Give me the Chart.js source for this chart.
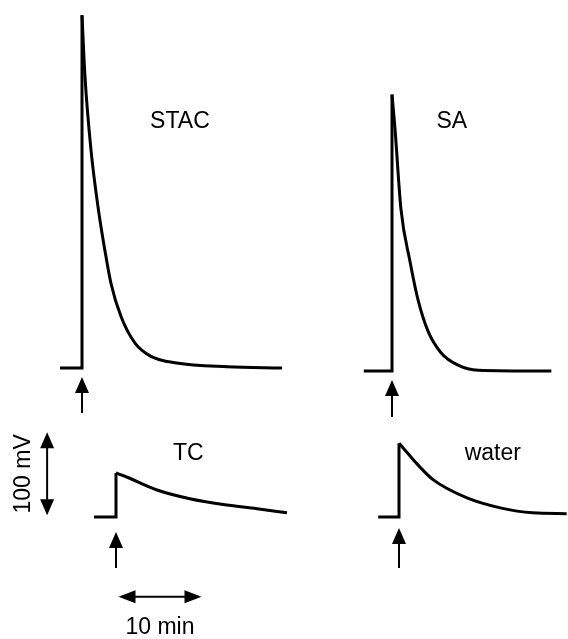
<!DOCTYPE html>
<html>
<head>
<meta charset="utf-8">
<script src="https://cdn.jsdelivr.net/npm/chart.js@4"></script>
<style>
  html, body { margin: 0; padding: 0; background: #fff; }
  #wrap { width: 568px; height: 639px; }
</style>
</head>
<body>
<div id="wrap"><canvas id="myChart" width="568" height="639"></canvas></div>
<script>
// potential (mV above baseline) against time after injection (min)
const panels = ["STAC", "SA", "TC", "water"]
const startTime = [-2.65, -3.4, -2.65, -2.5]

const stacTime = [0, 0.36, 1.08, 1.93, 2.77, 3.49, 4.7, 6.39, 8.31, 11.4, 17.5, 24.1]
const stacMv = [425, 351, 263, 194, 141, 102, 62, 30, 14, 6, 1.5, 0]

const saTime = [0, 0.36, 1.08, 2.17, 3.13, 4.34, 5.9, 7.95, 10.4, 19.2]
const saMv = [333, 292, 195, 132, 86, 48, 22, 7, 1, 0]

const tcTime = [0, 0.84, 4.94, 8.9, 12.9, 17, 20.6]
const tcMv = [53, 50, 32.5, 22, 15, 10, 5]

const waterTime = [0, 0.6, 2.17, 4.1, 8.2, 12.2, 16.1, 20.2]
const waterMv = [89, 82, 64, 45, 23, 11, 5, 4]

const scaleBarMin = 10
const scaleBarMv = 100

// layout
const W = 568, H = 639
const PX_PER_MIN = 8.3, PX_PER_MV = 0.83
const origin = [[82, 368], [392, 371], [116, 517], [399, 517]] // pixel of injection point
const labelAt = [[11.8, 297], [7.2, 301], [8.7, 76], [11.3, 76]] // min, mV
const arrowGap = [9, 9, 15, 11]
const arrowEnd = [45, 46, 51, 51]
const FONT = "23px 'Liberation Sans', Arial, sans-serif"
const INK = "#000"

const times = [stacTime, saTime, tcTime, waterTime]
const values = [stacMv, saMv, tcMv, waterMv]

const datasets = []
const scales = {}
panels.forEach((name, i) => {
  const [ox, oy] = origin[i]
  scales["x" + i] = { type: "linear", display: false, min: -ox / PX_PER_MIN, max: (W - ox) / PX_PER_MIN }
  scales["y" + i] = { type: "linear", display: false, min: -(H - oy) / PX_PER_MV, max: oy / PX_PER_MV }
  const common = {
    xAxisID: "x" + i, yAxisID: "y" + i, showLine: true, pointRadius: 0,
    borderColor: INK, borderWidth: 3, borderJoinStyle: "miter", borderCapStyle: "butt", clip: false,
  }
  datasets.push({
    ...common, label: name + " onset", tension: 0,
    data: [{ x: startTime[i], y: 0 }, { x: 0, y: 0 }, { x: 0, y: values[i][0] }],
  })
  datasets.push({
    ...common, label: name, cubicInterpolationMode: "monotone",
    data: times[i].map((t, k) => ({ x: t, y: values[i][k] })),
  })
})

function arrowHead(ctx, x, y, ang, len, half) {
  ctx.beginPath()
  ctx.moveTo(x, y)
  ctx.lineTo(x - len * Math.cos(ang) + half * Math.sin(ang), y - len * Math.sin(ang) - half * Math.cos(ang))
  ctx.lineTo(x - len * Math.cos(ang) - half * Math.sin(ang), y - len * Math.sin(ang) + half * Math.cos(ang))
  ctx.closePath()
  ctx.fill()
}

const annotations = {
  id: "annotations",
  afterDatasetsDraw(chart) {
    const ctx = chart.ctx
    ctx.save()
    ctx.fillStyle = INK
    ctx.strokeStyle = INK
    ctx.font = FONT
    ctx.textAlign = "center"
    ctx.textBaseline = "middle"
    panels.forEach((name, i) => {
      const xs = chart.scales["x" + i], ys = chart.scales["y" + i]
      ctx.fillText(name, xs.getPixelForValue(labelAt[i][0]), ys.getPixelForValue(labelAt[i][1]))
      // injection arrow
      const x = xs.getPixelForValue(0), yb = ys.getPixelForValue(0)
      ctx.lineWidth = 2
      ctx.beginPath()
      ctx.moveTo(x, yb + arrowEnd[i])
      ctx.lineTo(x, yb + arrowGap[i] + 10)
      ctx.stroke()
      arrowHead(ctx, x, yb + arrowGap[i], -Math.PI / 2, 16, 7)
    })

    // scale bars, drawn on the TC panel's axes
    const xs = chart.scales.x2, ys = chart.scales.y2
    const vx = xs.getPixelForValue(-8.3)
    const vTop = ys.getPixelForValue(2 + scaleBarMv), vBot = ys.getPixelForValue(2)
    ctx.lineWidth = 2
    ctx.beginPath()
    ctx.moveTo(vx, vTop + 12)
    ctx.lineTo(vx, vBot - 12)
    ctx.stroke()
    arrowHead(ctx, vx, vTop, -Math.PI / 2, 16, 7)
    arrowHead(ctx, vx, vBot, Math.PI / 2, 16, 7)

    const hy = ys.getPixelForValue(-96)
    const hLeft = xs.getPixelForValue(0.3), hRight = xs.getPixelForValue(0.3 + scaleBarMin)
    ctx.beginPath()
    ctx.moveTo(hLeft + 12, hy)
    ctx.lineTo(hRight - 12, hy)
    ctx.stroke()
    arrowHead(ctx, hLeft, hy, Math.PI, 17, 6.5)
    arrowHead(ctx, hRight, hy, 0, 17, 6.5)

    ctx.fillText(scaleBarMin + " min", (hLeft + hRight) / 2, hy + 31)

    ctx.save()
    ctx.translate(vx - 23, (vTop + vBot) / 2)
    ctx.rotate(-Math.PI / 2)
    ctx.fillText(scaleBarMv + " mV", 0, 0)
    ctx.restore()

    ctx.restore()
  },
}

new Chart(document.getElementById("myChart"), {
  type: "scatter",
  data: { datasets: datasets },
  options: {
    responsive: false,
    animation: false,
    layout: { padding: 0 },
    scales: scales,
    plugins: {
      legend: { display: false },
      tooltip: { enabled: false },
    },
  },
  plugins: [annotations],
})
</script>
</body>
</html>
